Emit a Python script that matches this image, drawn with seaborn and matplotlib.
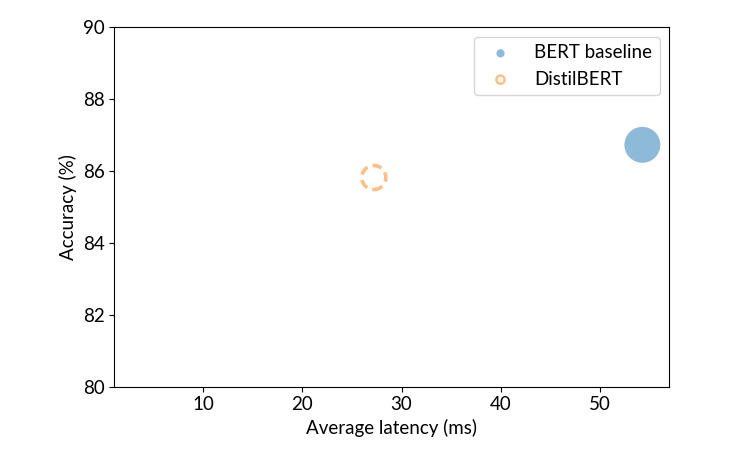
import seaborn as sns
import matplotlib.pyplot as plt

# Model benchmark results
models = ["BERT baseline", "DistilBERT"]
latency_ms = [54.3, 27.2]
accuracy = [86.73, 85.82]

sns.set_style("ticks")
plt.rcParams["font.family"] = ["Lato", "DejaVu Sans"]
plt.rcParams["font.size"] = 13.5
plt.rcParams["text.color"] = "black"
plt.rcParams["axes.labelcolor"] = "black"
plt.rcParams["xtick.color"] = "black"
plt.rcParams["ytick.color"] = "black"

fig = plt.figure(figsize=(7.51, 4.72), dpi=100)
ax = fig.add_axes([0.152, 0.181, 0.739, 0.761])

# baseline: filled circle
sns.scatterplot(x=[latency_ms[0]], y=[accuracy[0]], ax=ax, s=670, alpha=0.5,
                color="C0", edgecolor="none", label=models[0])
# distilled model: dashed hollow circle
ax.scatter([latency_ms[1]], [accuracy[1]], s=300, alpha=0.5, facecolors="none",
           edgecolors="C1", linewidths=2.6, linestyle=(0, (2.6, 1.5)),
           label=models[1])

ax.set_xlim(1, 57)
ax.set_ylim(80, 90)
ax.set_xlabel("Average latency (ms)")
ax.set_ylabel("Accuracy (%)")
for side in ["top", "right", "left", "bottom"]:
    ax.spines[side].set_visible(True)
    ax.spines[side].set_color("black")

legend = ax.legend(loc="upper right")
for handle in legend.legend_handles:
    handle.set_sizes([35])
    handle.set_linestyle("-")
    handle.set_linewidth(1.8)

plt.savefig("out.png", dpi=100)
